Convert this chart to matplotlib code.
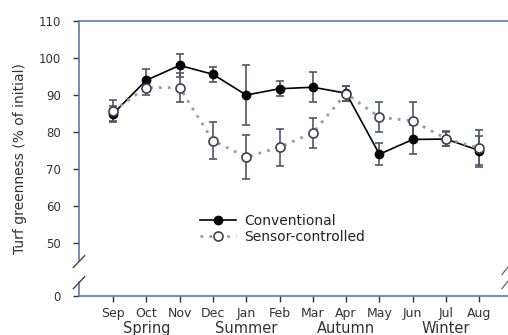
import matplotlib.pyplot as plt
import numpy as np

months = ['Sep', 'Oct', 'Nov', 'Dec', 'Jan', 'Feb', 'Mar', 'Apr', 'May', 'Jun', 'Jul', 'Aug']
seasons = ['Spring', 'Summer', 'Autumn', 'Winter']
season_pos = [1, 4, 7, 10]

conv = [84.9, 94.0, 98.0, 95.6, 90.0, 91.7, 92.1, 90.5, 74.0, 78.0, 78.1, 75.0]
conv_err = [2.0, 3.0, 3.0, 2.0, 8.0, 2.0, 4.0, 2.0, 3.0, 4.0, 2.0, 4.0]
sensor = [85.7, 92.0, 92.0, 77.7, 73.2, 75.9, 79.8, 90.4, 84.0, 83.0, 78.2, 75.6]
sensor_err = [3.0, 2.0, 4.0, 5.0, 6.0, 5.0, 4.0, 2.0, 4.0, 5.0, 2.0, 5.0]

y_ticks = [50, 60, 70, 80, 90, 100, 110]
y_zero = 35.7  # where the "0" tick sits below the axis break

axis_col = '#5b79ad'
bar_col = '#505568'

fig = plt.figure(figsize=(5.08, 3.35), dpi=100)
ax = fig.add_axes([79/508, 39/335, 1 - 79/508, 275/335])

x = np.arange(len(months))
# error bars
ax.errorbar(x, conv, yerr=conv_err, fmt='none', ecolor=bar_col,
            elinewidth=1.2, capsize=3, capthick=1.2, zorder=2)
ax.errorbar(x, sensor, yerr=sensor_err, fmt='none', ecolor=bar_col,
            elinewidth=1.2, capsize=3, capthick=1.2, zorder=2)
# lines + markers
ax.plot(x, conv, color='black', lw=1.2, marker='o', ms=6,
        mfc='black', mec='black', zorder=3, label='Conventional')
ax.plot(x, sensor, color='#9a9a9a', lw=2, ls=(0, (1, 2.2)),
        marker='o', ms=6.5, mfc='white', mec='#404050', mew=1.2,
        zorder=4, label='Sensor-controlled')

ax.set_xlim(-1.02, 11.86)
ax.set_ylim(y_zero, 110)
ax.set_xticks(x)
ax.set_xticklabels(months)
ax.set_yticks([y_zero] + y_ticks)
ax.set_yticklabels(['0'] + [str(t) for t in y_ticks])
ax.tick_params(colors='#333333', labelsize=8.5, length=4, width=1)
ax.tick_params(axis='x', pad=4, labelsize=9)
ax.tick_params(axis='y', pad=9)
for t in ax.get_xticklines() + ax.get_yticklines():
    t.set_color(axis_col)

for s in ['left', 'bottom', 'top']:
    ax.spines[s].set_color(axis_col)
    ax.spines[s].set_linewidth(1.2)
ax.spines['right'].set_visible(False)

# broken left axis
ax.spines['left'].set_bounds(45.5, 110)
ax.plot([-1.02, -1.02], [y_zero, 39.5], color=axis_col, lw=1.2, clip_on=False, zorder=5)
for yb in [45.0, 39.3]:
    ax.plot([-1.02 - 0.17, -1.02 + 0.17], [yb - 1.6, yb + 1.6], color='#444444',
            lw=1.0, clip_on=False, zorder=5)
for yb in [42.5, 38.7]:
    ax.plot([11.68, 11.86], [yb - 1.0, yb + 1.0], color='#666666',
            lw=0.9, clip_on=False, zorder=5)

for p, s in zip(season_pos, seasons):
    ax.text(p, -0.09, s, transform=ax.get_xaxis_transform(), ha='center',
            va='top', fontsize=10.5, color='#333333')

ax.set_ylabel('Turf greenness (% of initial)', fontsize=10, color='#333333', labelpad=8)

ax.legend(loc='upper left', bbox_to_anchor=(0.265, 0.325), frameon=False,
          fontsize=10, handlelength=2.6, handletextpad=0.6, labelspacing=0.2,
          borderpad=0, labelcolor='#222222')

fig.savefig('out.png', dpi=100)
